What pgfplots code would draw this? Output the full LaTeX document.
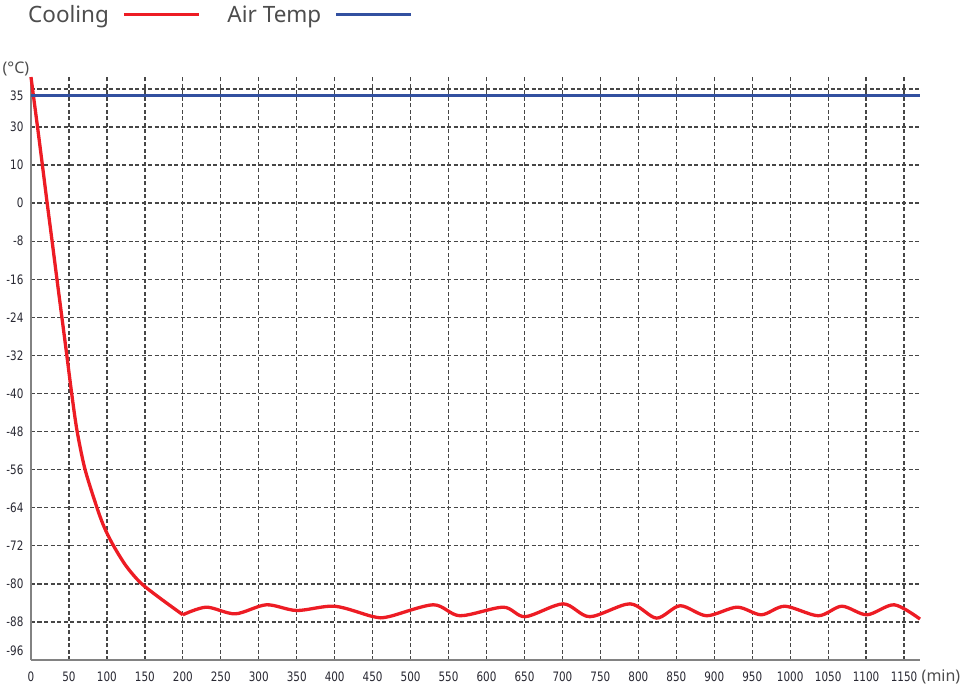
\documentclass[border=0pt]{standalone}
\usepackage{pgfplots}
\pgfplotsset{compat=1.18}
\usepackage{fontspec}
\setmainfont{Noto Sans}
\newfontfamily\tickfont[FakeStretch=0.8]{DejaVu Sans}
\definecolor{coolred}{RGB}{237,28,36}
\definecolor{airblue}{RGB}{50,80,160}
\definecolor{gridgray}{RGB}{70,70,70}
\definecolor{axisgray}{RGB}{130,130,130}
\definecolor{legtext}{RGB}{77,77,77}
\definecolor{ticktext}{RGB}{40,40,50}

% cooling curve, descent phase
\pgfplotstableread{
t T
0 38
3.2 35
8.6 30
15.0 10
21.3 0
27.8 -8
34.2 -16
40.7 -24
47.2 -32
53.6 -40
60.6 -47.8
71.1 -55.9
86.5 -63.8
96.2 -68.0
108 -71.8
125.1 -76.2
144.5 -79.8
169.9 -83.0
200 -86.5
}\coolingA

% cooling curve, holding phase
\pgfplotstableread{
t T
200 -86.5
231 -84.9
269 -86.3
310 -84.4
350 -85.6
400 -84.7
451 -86.9
471 -86.9
530 -84.4
565 -86.7
622 -84.9
651 -86.9
701 -84.2
736 -86.9
789 -84.2
824 -87.2
855 -84.6
890 -86.7
930 -84.9
962 -86.5
993 -84.7
1037 -86.7
1068 -84.7
1101 -86.5
1137 -84.4
1171 -87.4
}\coolingB

\pgfplotstableread{
t T
0 35
1171 35
}\airtemp

\begin{document}
\begin{tikzpicture}
\useasboundingbox (-31pt,-33pt) rectangle (932pt,660pt);
\begin{axis}[
  at={(0pt,0pt)}, anchor=south west,
  scale only axis, width=889pt, height=582.5pt,
  xmin=0, xmax=1171, ymin=0, ymax=15.3,
  y filter/.expression={y<=0 ? y/8+12 : (y<=10 ? 12+y/10 : (y<=30 ? 13+(y-10)/20 : 14+(y-30)*0.164))},
  axis x line=bottom, axis y line=left,
  axis line style={-, draw=axisgray, line width=1.5pt},
  major tick length=0pt,
  xtick={0,50,...,1150},
  ytick={1,...,15},
  yticklabels={-88,-80,-72,-64,-56,-48,-40,-32,-24,-16,-8,0,10,30,{}},
  extra y ticks={0.24,14.82},
  extra y tick labels={-96,35},
  extra y tick style={grid=none},
  xmajorgrids, ymajorgrids,
  major grid style={draw=gridgray, line width=1.3pt, dash pattern=on 4pt off 2.5pt},
  /pgf/number format/assume math mode=true,
  /pgf/number format/1000 sep={},
  ticklabel style={font=\tickfont\fontsize{13}{13}\selectfont, text=ticktext},
  xticklabel style={yshift=-8pt},
  yticklabel style={xshift=-4pt},
  xlabel={(min)},
  xlabel style={at={(axis description cs:1.0236,-0.0292)}, anchor=center, font=\fontsize{16}{16}\selectfont, text=legtext},
  ylabel={(°C)},
  ylabel style={rotate=-90, at={(axis description cs:-0.0169,1.0146)}, anchor=center, font=\fontsize{16}{16}\selectfont, text=legtext},
  clip=false,
  legend plot pos=right,
  legend columns=2,
  legend image code/.code={\draw[#1, line width=3pt] (0pt,0pt) -- (75pt,0pt);},
  legend style={at={(axis description cs:-0.0034,1.1073)}, anchor=west, draw=none, fill=none, inner sep=0pt,
    font=\fontsize{22.5}{24}\selectfont, text=legtext,
    nodes={inner sep=0pt},
    /tikz/every odd column/.append style={column sep=13.5pt},
    /tikz/every even column/.append style={column sep=27pt}},
]
\addplot[coolred, line width=3.3pt, smooth, tension=0.5] table[x=t, y=T] {\coolingA};
\addlegendentry{Cooling}
\addplot[airblue, line width=3pt] table[x=t, y=T] {\airtemp};
\addlegendentry{Air Temp}
\addplot[coolred, line width=3.3pt, smooth, tension=0.5, forget plot] table[x=t, y=T] {\coolingB};
\end{axis}
\end{tikzpicture}
\end{document}
